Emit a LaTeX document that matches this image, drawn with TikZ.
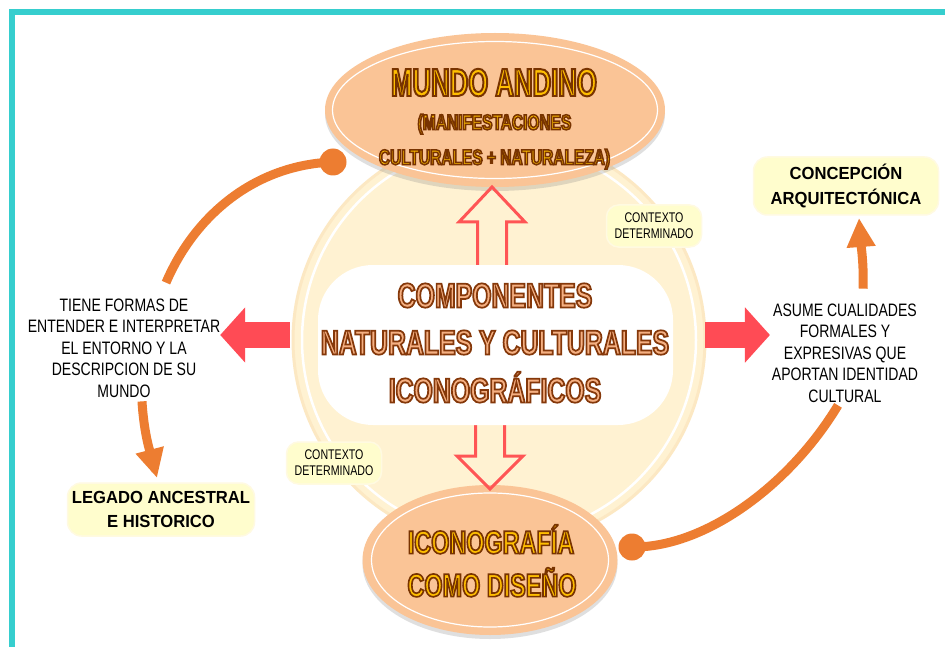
\documentclass[tikz,border=0pt]{standalone}
\usepackage{fontspec}
\setmainfont{Liberation Sans}
\newfontface\titlefont{Liberation Sans Bold}[FakeStretch=0.72,FakeBold=5]
\newfontface\mundofont{Liberation Sans Bold}[FakeStretch=0.66,FakeBold=5]
\newfontface\titlefontsm{Liberation Sans Bold}[FakeStretch=0.72,FakeBold=7]
\newfontface\narrowfont{Liberation Sans}[FakeStretch=0.78]
\newfontface\ctxfont{Liberation Sans}[FakeStretch=0.76]
\newfontface\boldfont{Liberation Sans Bold}[FakeStretch=0.95]
\usetikzlibrary{arrows.meta,shadows,shapes.geometric}
\definecolor{teal1}{RGB}{54,206,206}
\definecolor{peach}{RGB}{250,196,150}
\definecolor{cream}{RGB}{255,242,210}
\definecolor{creamedge}{RGB}{252,232,195}
\definecolor{boxyellow}{RGB}{255,253,205}
\definecolor{boxedge}{RGB}{255,250,225}
\definecolor{arcorange}{RGB}{237,125,49}
\definecolor{redarrow}{RGB}{255,75,85}
\definecolor{hollowred}{RGB}{255,85,85}
\newcommand{\yellowout}[1]{\special{pdf:bcolor [1 0.75 0] [0.47 0.2 0.0]}#1\special{pdf:ecolor}}
\newcommand{\orangeout}[1]{\special{pdf:bcolor [0.96 0.69 0.51] [0.52 0.22 0.04]}#1\special{pdf:ecolor}}
\begin{document}
\begin{tikzpicture}[x=1pt,y=-1pt,
  every node/.style={inner sep=0pt, outer sep=0pt},
  ovalbox/.style={ellipse, fill=peach, drop shadow={shadow xshift=0pt, shadow yshift=-4pt, opacity=0.25, fill=black!50}},
  ring/.style={draw=white, line width=1.2pt},
  titlebig/.style={anchor=base, font=\titlefont\fontsize{#1}{#1}\selectfont},
  titlemundo/.style={anchor=base, font=\mundofont\fontsize{#1}{#1}\selectfont},
  titlesmall/.style={anchor=base, font=\titlefontsm\fontsize{#1}{#1}\selectfont},
  paleb/.style={fill=boxyellow, draw=boxedge, line width=1.5pt, rounded corners=14pt, align=center},
  ctx/.style={fill=boxyellow, draw=boxedge, line width=1.5pt, rounded corners=12pt, minimum width=95pt, minimum height=42pt, align=center, font=\ctxfont\fontsize{14}{16}\selectfont},
  plain/.style={align=center, font=\narrowfont\fontsize{18}{21.5}\selectfont},
  orangeline/.style={draw=arcorange, line width=9pt},
  orangearrow/.style={orangeline, -{Triangle[width=27pt,length=29pt]}},
  dotn/.style={circle, fill=arcorange, minimum size=27pt},
  hollow/.style={draw=hollowred, line width=3pt, line join=miter},
  solidarrow/.style={draw=redarrow, line width=26pt, -{Triangle[width=54pt,length=25pt]}}
]
\useasboundingbox (0,0) rectangle (945,647);
\fill[white] (0,0) rectangle (945,647);
\draw[teal1, line width=6pt] (12,647) -- (12,12.5) -- (945,12.5);

% background circle
\node[circle, minimum size=412pt, fill=cream, draw=creamedge, line width=3pt] (circ) at (499,340) {};
\draw[white, line width=2.5pt] (circ.center) circle[radius=197pt];

% ellipses
\node[ovalbox, minimum width=340pt, minimum height=154pt] (mundo) at (495,110) {};
\draw[ring] (mundo.center) ellipse [x radius=162.5pt, y radius=68.5pt];
\node[ovalbox, minimum width=255pt, minimum height=150pt] (icono) at (490,560) {};
\draw[ring] (icono.center) ellipse [x radius=118.5pt, y radius=67pt];

% hollow arrows
\draw[hollow] ([xshift=-3pt]mundo.south) -- ++(33,35) -- ++(-18.5,0) -- ++(0,55) -- ++(-29,0) -- ++(0,-55) -- ++(-18.5,0) -- cycle;
\draw[hollow] ([yshift=-4pt]icono.north) -- ++(33,-33) -- ++(-18.5,0) -- ++(0,-45) -- ++(-29,0) -- ++(0,45) -- ++(-18.5,0) -- cycle;

% central box
\node[fill=white, rounded corners=55pt, minimum width=355pt, minimum height=160pt] (comp) at (495.5,345) {};
\node[titlebig=34.5] (comp1) at (495,307.4) {\orangeout{COMPONENTES}};
\node[titlebig=34.5] (comp2) at (495,354.4) {\orangeout{NATURALES Y CULTURALES}};
\node[titlebig=34.5] (comp3) at (495,402.4) {\orangeout{ICONOGRÁFICOS}};

% ellipse texts
\node[titlemundo=39] (mundo1) at (494,96) {\yellowout{MUNDO ANDINO}};
\node[titlesmall=21.5] (mundo2) at (494.5,129.7) {\yellowout{(MANIFESTACIONES}};
\node[titlesmall=21.5] (mundo3) at (494.5,164.7) {\yellowout{CULTURALES + NATURALEZA)}};
\node[titlebig=32.5] (icono1) at (491,553.6) {\yellowout{ICONOGRAFÍA}};
\node[titlebig=32.5] (icono2) at (492,596.6) {\yellowout{COMO DISEÑO}};

% boxes and texts
\node[paleb, minimum width=185pt, minimum height=58pt, font=\boldfont\fontsize{17.5}{25}\selectfont] (concep) at (846,186) {CONCEPCIÓN\\ARQUITECTÓNICA};
\node[paleb, minimum width=187pt, minimum height=53pt, font=\boldfont\fontsize{17.5}{24}\selectfont] (legado) at (161,509.5) {LEGADO ANCESTRAL\\E HISTORICO};
\node[plain] (lefttext) at (124,348) {TIENE FORMAS DE\\ENTENDER E INTERPRETAR\\EL ENTORNO Y LA\\DESCRIPCION DE SU\\MUNDO};
\node[plain] (righttext) at (845,353) {ASUME CUALIDADES\\FORMALES Y\\EXPRESIVAS QUE\\APORTAN IDENTIDAD\\CULTURAL};
\node[ctx] (ctx1) at (654,226) {CONTEXTO\\DETERMINADO};
\node[ctx] (ctx2) at (334,463) {CONTEXTO\\DETERMINADO};

% solid red arrows
\draw[solidarrow] ([xshift=-3pt,yshift=5pt]circ.west) -- ([yshift=13pt]lefttext.east);
\draw[solidarrow] ([yshift=5pt]circ.east) -- ([xshift=-2pt,yshift=18pt]righttext.west);

% orange connectors
\node[dotn] (dot1) at (333,162) {};
\node[dotn] (dot2) at (632,547) {};
\draw[orangeline] (dot1.center) .. controls (255,165) and (195,215) .. ([xshift=42pt,yshift=16pt]lefttext.north);
\draw[orangearrow] ([xshift=18pt,yshift=-4pt]lefttext.south) .. controls (144,435) and (151,455) .. ([xshift=-4pt,yshift=5pt]legado.north);
\draw[orangeline] (dot2.center) .. controls (705,548) and (790,485) .. ([xshift=-7pt,yshift=-3pt]righttext.south);
\draw[orangearrow] ([xshift=18pt,yshift=15pt]righttext.north) .. controls (864,265) and (861,245) .. ([xshift=13pt,yshift=-3pt]concep.south);
\end{tikzpicture}
\end{document}
